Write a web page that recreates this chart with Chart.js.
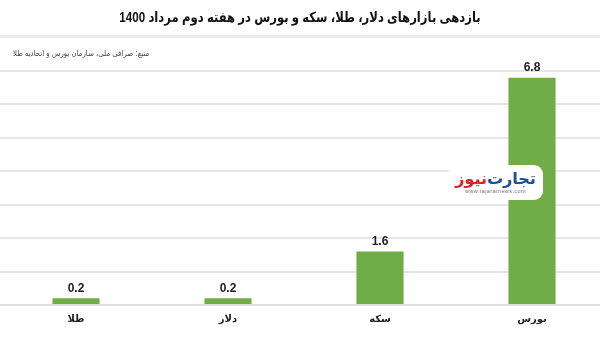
<!DOCTYPE html>
<html>
<head>
<meta charset="utf-8">
<script src="https://cdn.jsdelivr.net/npm/chart.js@4"></script>
<style>
  html, body { margin:0; padding:0; background:#fff; width:600px; height:343px; overflow:hidden; position:relative; }
  #wrap { position:absolute; left:0; top:0; width:608px; height:343px; }
  #title { position:absolute; left:0; top:9px; width:600px; text-align:center; direction:rtl;
           font-family:"Liberation Sans","DejaVu Sans",sans-serif; font-weight:bold; font-size:14px; color:#111;
           transform:scaleX(0.83); transform-origin:300px 0; }
  #sep { position:absolute; left:0; top:35px; width:600px; height:3px; background:#ececec; }
  #source { position:absolute; left:13px; top:49px; direction:rtl; font-family:"DejaVu Sans",sans-serif; font-size:8px; color:#444;
            transform:scaleX(0.87); transform-origin:0 0; }
  #logo { position:absolute; left:448px; top:165px; width:95px; height:35px; background:#fff; border-radius:9px; text-align:center; }
  #logo .name { direction:rtl; font-family:"DejaVu Sans",sans-serif; font-weight:bold; font-size:16px; line-height:19px; margin-top:4px; }
  #logo .url { font-family:"Liberation Sans",sans-serif; font-size:5.5px; color:#777; letter-spacing:0.4px; }
</style>
</head>
<body>
<div id="wrap"><canvas id="c" width="608" height="343"></canvas></div>
<div id="title">بازدهی بازارهای دلار، طلا، سکه و بورس در هفته دوم مرداد 1400</div>
<div id="sep"></div>
<div id="source">منبع: صرافی ملی، سازمان بورس و اتحادیه طلا</div>
<div id="logo"><div class="name"><span style="color:#1d4f91">تجارت</span>&zwnj;<span style="color:#d8232a">نیوز</span></div><div class="url">www.tajaratnews.com</div></div>
<script>
const categories = ["طلا", "دلار", "سکه", "بورس"];
const returns = [0.2, 0.2, 1.6, 6.8];
const yMin = 0, yMax = 7, yStep = 1;

const valueLabels = {
  id: 'valueLabels',
  afterDatasetsDraw(chart) {
    const ctx = chart.ctx;
    const meta = chart.getDatasetMeta(0);
    ctx.save();
    ctx.font = 'bold 12px "Liberation Sans", Arial, sans-serif';
    ctx.fillStyle = '#222';
    ctx.textAlign = 'center';
    ctx.textBaseline = 'middle';
    meta.data.forEach((bar, i) => {
      ctx.fillText(String(returns[i]), bar.x, bar.y - 10);
    });
    ctx.restore();
  }
};

new Chart(document.getElementById('c'), {
  type: 'bar',
  data: {
    labels: categories,
    datasets: [{
      data: returns,
      backgroundColor: '#70ad47',
      borderWidth: 0,
      categoryPercentage: 1,
      barPercentage: 0.31
    }]
  },
  options: {
    responsive: false,
    animation: false,
    devicePixelRatio: 1,
    layout: { padding: { top: 71, left: 0, right: 0, bottom: 0 } },
    plugins: { legend: { display: false }, tooltip: { enabled: false } },
    scales: {
      x: {
        grid: { display: false, drawTicks: false },
        border: { display: true, color: '#dedede', width: 2 },
        ticks: { color: '#222', font: { family: '"DejaVu Sans", sans-serif', weight: 'bold', size: 10 }, padding: 8 },
        afterFit(scale) { scale.height = 38; }
      },
      y: {
        min: yMin, max: yMax,
        ticks: { display: false, stepSize: yStep },
        grid: { color: '#e6e6e6', lineWidth: 2, drawTicks: false },
        border: { display: false },
        afterFit(scale) { scale.width = 0; }
      }
    }
  },
  plugins: [valueLabels]
});
</script>
</body>
</html>
